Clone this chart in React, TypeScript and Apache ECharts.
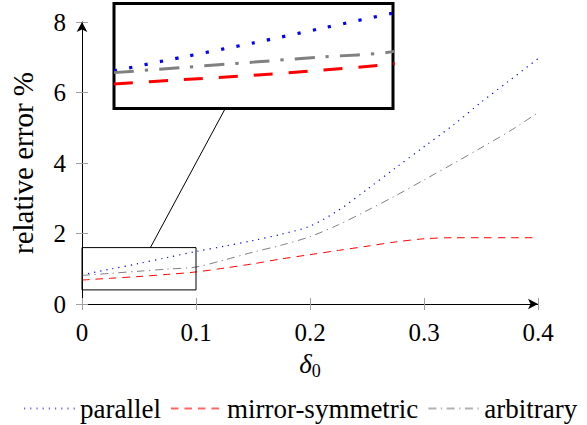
import React, { useEffect, useRef } from 'react';
import * as echarts from 'echarts';

// delta_0 sample points
const delta0 = [0, 0.025, 0.05, 0.075, 0.1, 0.125, 0.15, 0.175, 0.2, 0.225, 0.25, 0.275, 0.3, 0.325, 0.35, 0.375, 0.4];
// relative error % per configuration
const parallel = [0.83, 0.99, 1.15, 1.32, 1.49, 1.64, 1.8, 1.98, 2.21, 2.66, 3.25, 3.86, 4.46, 5.06, 5.72, 6.34, 6.96];
const mirrorSymmetric = [0.68, 0.73, 0.78, 0.84, 0.91, 1.02, 1.14, 1.28, 1.4, 1.52, 1.64, 1.76, 1.85, 1.88, 1.88, 1.88, 1.88];
const arbitrary = [0.81, 0.87, 0.93, 0.99, 1.05, 1.25, 1.47, 1.67, 1.91, 2.25, 2.65, 3.07, 3.52, 3.97, 4.43, 4.9, 5.43];

const seriesNames = ['parallel', 'mirror-symmetric', 'arbitrary'];
const xTicks = [0, 0.1, 0.2, 0.3, 0.4];
const yTicks = [0, 2, 4, 6, 8];

// spy (zoom) region in data units
const spyX = [0, 0.1];
const spyY = [0.4, 1.6];

const FONT = 'Liberation Serif';

const INSET = { left: 114, top: 3.5, width: 279, height: 105 };
const MAIN = { left: 82, right: 49, top: 22, bottom: 121 };

const toPairs = (ys: number[]) => delta0.map((x, i) => [x, ys[i]]);

export default function App() {
  const ref = useRef<HTMLDivElement>(null);
  useEffect(() => {
    if (!ref.current) return;
    const chart = echarts.init(ref.current, null, { renderer: 'svg' });

    const mainStyles = [
      { color: '#0000ff', width: 1.2, type: [1.2, 5] },
      { color: '#ff0000', width: 1, type: [7.5, 6] },
      { color: '#808080', width: 1, type: [8, 4.5, 1.3, 4.5] },
    ];
    const zoomStyles = [
      { color: '#0000ff', width: 3.2, type: [3.2, 12.4] },
      { color: '#ff0000', width: 3, type: [19, 16] },
      { color: '#808080', width: 3, type: [20, 11, 3.3, 11] },
    ];
    const datasets = [parallel, mirrorSymmetric, arbitrary];

    const mainSeries = datasets.map((d, i) => ({
      name: seriesNames[i],
      type: 'line',
      xAxisIndex: 0,
      yAxisIndex: 0,
      data: toPairs(d),
      smooth: 0.3,
      symbol: 'none',
      lineStyle: { color: mainStyles[i].color, width: mainStyles[i].width, type: mainStyles[i].type as any, cap: 'butt' },
      itemStyle: { color: mainStyles[i].color },
      z: 3,
    }));
    const zoomSeries = datasets.map((d, i) => ({
      name: seriesNames[i] + '-zoom',
      type: 'line',
      xAxisIndex: 2,
      yAxisIndex: 2,
      data: toPairs(d),
      smooth: 0.3,
      symbol: 'none',
      clip: true,
      silent: true,
      lineStyle: { color: zoomStyles[i].color, width: zoomStyles[i].width, type: zoomStyles[i].type as any, cap: 'butt' },
      itemStyle: { color: zoomStyles[i].color },
      z: 5,
    }));
    const rectSeries = {
      name: 'spy-rect',
      type: 'line',
      xAxisIndex: 0,
      yAxisIndex: 0,
      data: [[spyX[0], spyY[0]], [spyX[1], spyY[0]], [spyX[1], spyY[1]], [spyX[0], spyY[1]], [spyX[0], spyY[0]]],
      symbol: 'none',
      silent: true,
      lineStyle: { color: '#000', width: 1 },
      z: 4,
    };

    const tickStyle = { color: '#a0a0a0', width: 1 };
    const labelStyle = { color: '#000', fontFamily: FONT, fontSize: 25 };

    chart.setOption({
      animation: false,
      backgroundColor: '#fff',
      textStyle: { fontFamily: FONT },
      grid: [
        { left: MAIN.left, right: MAIN.right, top: MAIN.top, bottom: MAIN.bottom, containLabel: false },
        { left: INSET.left, top: INSET.top, width: INSET.width, height: INSET.height, show: true, borderColor: '#000', borderWidth: 3, backgroundColor: '#fff', z: 4 },
      ],
      legend: {
        data: seriesNames,
        top: 395,
        left: 23,
        width: 562,
        padding: 0,
        itemWidth: 52,
        itemHeight: 10,
        itemGap: 9,
        itemStyle: { opacity: 0 },
        lineStyle: { opacity: 0.6 },
        textStyle: { color: '#000', fontFamily: FONT, fontSize: 27, padding: [0, 0, 0, -1] },
        selectedMode: false,
      },
      xAxis: [
        {
          type: 'value', gridIndex: 0, min: xTicks[0], max: xTicks[xTicks.length - 1], interval: 0.1,
          position: 'bottom',
          axisLine: { show: true, onZero: false, lineStyle: { color: '#000', width: 1 }, symbol: ['none', 'arrow'], symbolSize: [8, 10] },
          axisTick: { show: true, length: 6, lineStyle: tickStyle },
          axisLabel: { ...labelStyle, margin: 16, formatter: (v: number) => (v === 0 ? '0' : v.toFixed(1)) },
          splitLine: { show: false },
          name: '{d|δ}{s|0}',
          nameLocation: 'middle',
          nameGap: 44,
          nameTextStyle: {
            fontFamily: FONT,
            rich: {
              d: { fontFamily: FONT, fontSize: 27, fontStyle: 'italic', color: '#000' },
              s: { fontFamily: FONT, fontSize: 18, color: '#000', padding: [14, 0, 0, 0] },
            },
          },
        },
        {
          type: 'value', gridIndex: 0, min: xTicks[0], max: xTicks[xTicks.length - 1], interval: 0.1,
          position: 'bottom',
          axisLine: { show: false },
          axisTick: { show: true, inside: true, length: 6, lineStyle: tickStyle },
          axisLabel: { show: false },
          splitLine: { show: false },
        },
        {
          type: 'value', gridIndex: 1, min: spyX[0], max: spyX[1],
          show: false,
        },
      ],
      yAxis: [
        {
          type: 'value', gridIndex: 0, min: yTicks[0], max: yTicks[yTicks.length - 1], interval: 2,
          position: 'left',
          axisLine: { show: true, onZero: false, lineStyle: { color: '#000', width: 1 }, symbol: ['none', 'arrow'], symbolSize: [8, 10] },
          axisTick: { show: true, length: 6, lineStyle: tickStyle },
          axisLabel: { ...labelStyle, margin: 16 },
          splitLine: { show: false },
          name: 'relative error %',
          nameLocation: 'middle',
          nameRotate: 90,
          nameGap: 45,
          nameTextStyle: { ...labelStyle, fontSize: 29 },
        },
        {
          type: 'value', gridIndex: 0, min: yTicks[0], max: yTicks[yTicks.length - 1], interval: 2,
          position: 'left',
          axisLine: { show: false },
          axisTick: { show: true, inside: true, length: 6, lineStyle: tickStyle },
          axisLabel: { show: false },
          splitLine: { show: false },
        },
        {
          type: 'value', gridIndex: 1, min: spyY[0], max: spyY[1],
          show: false,
        },
      ],
      series: [...mainSeries, rectSeries, ...zoomSeries],
    });

    // connector line between spy rectangle and the inset (centre to centre, clipped at both borders)
    const p0 = chart.convertToPixel({ gridIndex: 0 }, [spyX[0], spyY[1]]) as number[];
    const p1 = chart.convertToPixel({ gridIndex: 0 }, [spyX[1], spyY[0]]) as number[];
    const c1 = [(p0[0] + p1[0]) / 2, (p0[1] + p1[1]) / 2];
    const hw1 = Math.abs(p1[0] - p0[0]) / 2;
    const hh1 = Math.abs(p1[1] - p0[1]) / 2;
    const c2 = [INSET.left + INSET.width / 2, INSET.top + INSET.height / 2];
    const hw2 = INSET.width / 2 + 1.5;
    const hh2 = INSET.height / 2 + 1.5;
    const dx = c2[0] - c1[0];
    const dy = c2[1] - c1[1];
    const t1 = Math.min(hw1 / Math.abs(dx || 1e-9), hh1 / Math.abs(dy || 1e-9));
    const t2 = Math.min(hw2 / Math.abs(dx || 1e-9), hh2 / Math.abs(dy || 1e-9));
    chart.setOption({
      graphic: [
        {
          type: 'line',
          silent: true,
          z: 10,
          shape: { x1: c1[0] + t1 * dx, y1: c1[1] + t1 * dy, x2: c2[0] - t2 * dx, y2: c2[1] - t2 * dy },
          style: { stroke: '#000', lineWidth: 1 },
        },
      ],
    });

    return () => chart.dispose();
  }, []);

  return <div ref={ref} style={{ position: 'fixed', left: 0, top: 0, width: 587, height: 425 }} />;
}
